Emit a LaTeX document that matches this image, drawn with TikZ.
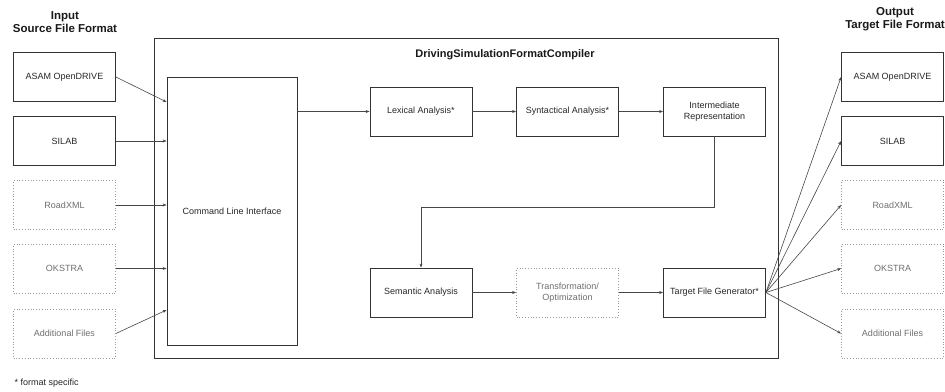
\documentclass[tikz,border=0pt]{standalone}
\usepackage{fontspec}
\setmainfont{Liberation Sans}
\usetikzlibrary{arrows.meta,calc}
\definecolor{edge}{HTML}{333333}
\definecolor{soft}{HTML}{9A9A9A}
\definecolor{softtext}{HTML}{6E6E6E}
\tikzset{
  box/.style={draw=edge, line width=0.8pt, minimum width=102pt, minimum height=49pt, inner sep=1pt, align=center, font=\fontsize{9}{10.5}\selectfont, text=black!85},
  dbox/.style={box, draw=soft, dotted, line width=0.8pt, text=softtext},
  conn/.style={draw=edge!90, line width=0.6pt, -{Stealth[length=4pt,width=3pt]}},
  head/.style={font=\fontsize{11.5}{13}\selectfont\bfseries, align=center, text=black!90}
}
\begin{document}
\begin{tikzpicture}[x=1pt,y=1pt]
\useasboundingbox (0,0) rectangle (945,-391);
% headers
\node[head] (inhead) at (65,-22) {Input\\Source File Format};
\node[head] (outhead) at (895,-19) {Output\\Target File Format};
% big frame
\node[draw=edge, line width=0.8pt, minimum width=624pt, minimum height=320pt, inner sep=0pt] (frame) at (466,-198) {};
\node[font=\fontsize{11}{12.5}\selectfont\bfseries, text=black!90] (title) at (505,-55) {DrivingSimulationFormatCompiler};
% input boxes
\node[box] (i1) at (64.5,-77) {ASAM OpenDRIVE};
\node[box] (i2) at (64.5,-141) {SILAB};
\node[dbox] (i3) at (64.5,-205) {RoadXML};
\node[dbox] (i4) at (64.5,-268.5) {OKSTRA};
\node[dbox] (i5) at (64.5,-333.5) {Additional Files};
% CLI
\node[box, minimum width=130pt, minimum height=268pt] (cli) at (232,-211) {Command Line Interface};
% pipeline
\node[box] (lex) at (421,-111.5) {Lexical Analysis*};
\node[box] (syn) at (567.5,-111.5) {Syntactical Analysis*};
\node[box] (ir) at (714.5,-111.5) {Intermediate\\Representation};
\node[box] (sem) at (421,-292.5) {Semantic Analysis};
\node[dbox] (tr) at (567.5,-292.5) {Transformation/\\Optimization};
\node[box] (tfg) at (714.5,-292.5) {Target File Generator*};
% output boxes
\node[box] (o1) at (892.5,-77) {ASAM OpenDRIVE};
\node[box] (o2) at (892.5,-141) {SILAB};
\node[dbox] (o3) at (892.5,-205) {RoadXML};
\node[dbox] (o4) at (892.5,-268.5) {OKSTRA};
\node[dbox] (o5) at (892.5,-333.5) {Additional Files};
% footnote
\node[anchor=west, font=\fontsize{9}{10.5}\selectfont, text=black!85] (note) at (11,-383) {* format specific};
% coordinates on CLI
\coordinate (c1) at (cli.west |- 0,-102);
\coordinate (c2) at (cli.west |- 0,-141);
\coordinate (c3) at (cli.west |- 0,-205);
\coordinate (c4) at (cli.west |- 0,-268.5);
\coordinate (c5) at (cli.west |- 0,-310);
\coordinate (cout) at (cli.east |- 0,-111.5);
\coordinate (bend) at (0,-207);
% connectors
\draw[conn] (i1.east) -- (c1);
\draw[conn] (i2.east) -- (c2);
\draw[conn] (i3.east) -- (c3);
\draw[conn] (i4.east) -- (c4);
\draw[conn] (i5.east) -- (c5);
\draw[conn] (cout) -- (lex.west);
\draw[conn] (lex.east) -- (syn.west);
\draw[conn] (syn.east) -- (ir.west);
\draw[conn] (ir.south) -- (ir.south |- bend) -| (sem.north);
\draw[conn] (sem.east) -- (tr.west);
\draw[conn] (tr.east) -- (tfg.west);
\draw[conn] (tfg.east) -- (o1.west);
\draw[conn] (tfg.east) -- (o2.west);
\draw[conn] (tfg.east) -- (o3.west);
\draw[conn] (tfg.east) -- (o4.west);
\draw[conn] (tfg.east) -- (o5.west);
\end{tikzpicture}
\end{document}
